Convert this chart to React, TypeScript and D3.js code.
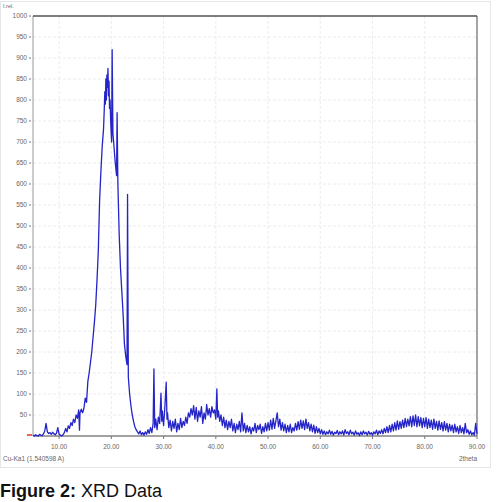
import React from "react";
import * as d3 from "d3";

const yTicks = [50, 100, 150, 200, 250, 300, 350, 400, 450, 500, 550, 600, 650, 700, 750, 800, 850, 900, 950, 1000];
const xTicks = [10, 20, 30, 40, 50, 60, 70, 80, 90];

// [2theta, intensity]
const scan: [number, number][] = [
  [5.0, 2], [5.25, 0], [5.5, 3], [5.75, 1], [6.0, 0], [6.25, 4], [6.5, 2], [6.75, 1], [7.0, 5],
  [7.25, 12], [7.5, 30], [7.75, 10], [8.0, 6], [8.25, 8], [8.5, 4], [8.75, 9], [9.0, 5], [9.25, 3],
  [9.5, 7], [9.75, 20], [10.0, 4], [10.25, 2], [10.5, 0], [10.75, 3], [11.0, 8], [11.25, 18],
  [11.5, 10], [11.75, 24], [12.0, 18], [12.25, 32], [12.5, 25], [12.75, 40], [13.0, 32], [13.25, 50],
  [13.5, 42], [13.75, 62], [13.9, 14], [14.0, 55], [14.25, 64], [14.5, 55], [14.75, 66], [15.0, 90],
  [15.25, 80], [15.5, 130], [15.75, 150], [16.0, 175], [16.25, 200], [16.5, 235], [16.75, 270],
  [17.0, 310], [17.25, 370], [17.5, 440], [17.75, 560], [18.0, 630], [18.25, 690], [18.5, 730],
  [18.65, 780], [18.75, 820], [18.85, 790], [18.95, 850], [19.05, 800], [19.15, 860], [19.25, 830],
  [19.35, 875], [19.45, 810], [19.55, 845], [19.65, 780], [19.75, 800], [19.9, 740], [20.05, 700],
  [20.15, 920], [20.3, 720], [20.5, 690], [20.75, 650], [21.0, 620], [21.1, 770], [21.25, 600],
  [21.5, 480], [21.75, 400], [22.0, 345], [22.25, 290], [22.5, 220], [22.75, 190], [23.0, 170],
  [23.1, 575], [23.25, 140], [23.5, 100], [23.75, 72], [24.0, 50], [24.25, 35], [24.5, 22],
  [24.75, 15], [25.0, 10], [25.25, 5], [25.5, 12], [25.75, 3], [26.0, 8], [26.25, 2], [26.5, 10],
  [26.75, 4], [27.0, 15], [27.25, 6], [27.5, 20], [27.75, 8], [28.0, 30], [28.15, 160], [28.3, 20],
  [28.5, 40], [28.75, 15], [29.0, 45], [29.25, 30], [29.5, 102], [29.65, 35], [29.75, 60], [30.0, 25],
  [30.25, 70], [30.5, 128], [30.65, 40], [30.75, 55], [31.0, 20], [31.25, 38], [31.5, 12], [31.75, 35],
  [32.0, 18], [32.25, 40], [32.5, 10], [32.75, 30], [33.0, 15], [33.25, 42], [33.5, 20], [33.75, 35],
  [34.0, 25], [34.25, 45], [34.5, 30], [34.75, 55], [35.0, 45], [35.25, 65], [35.5, 50], [35.75, 72],
  [36.0, 40], [36.25, 68], [36.5, 35], [36.75, 60], [37.0, 45], [37.25, 70], [37.5, 30], [37.75, 55],
  [38.0, 40], [38.25, 75], [38.5, 50], [38.75, 65], [39.0, 45], [39.25, 70], [39.5, 55], [39.75, 62],
  [40.0, 40], [40.2, 112], [40.35, 45], [40.5, 60], [40.75, 35], [41.0, 50], [41.25, 25], [41.5, 45],
  [41.75, 20], [42.0, 38], [42.25, 15], [42.5, 35], [42.75, 20], [43.0, 40], [43.25, 12], [43.5, 30],
  [43.75, 8], [44.0, 28], [44.25, 15], [44.5, 35], [44.75, 10], [45.0, 55], [45.25, 12], [45.5, 30],
  [45.75, 8], [46.0, 25], [46.25, 10], [46.5, 22], [46.75, 5], [47.0, 20], [47.25, 12], [47.5, 30],
  [47.75, 8], [48.0, 25], [48.25, 15], [48.5, 28], [48.75, 6], [49.0, 22], [49.25, 10], [49.5, 30],
  [49.75, 12], [50.0, 32], [50.25, 14], [50.5, 38], [50.75, 16], [51.0, 42], [51.25, 18], [51.5, 36],
  [51.75, 55], [52.0, 22], [52.25, 40], [52.5, 14], [52.75, 32], [53.0, 12], [53.25, 28], [53.5, 8],
  [53.75, 25], [54.0, 10], [54.25, 28], [54.5, 8], [54.75, 20], [55.0, 12], [55.25, 30], [55.5, 14],
  [55.75, 34], [56.0, 16], [56.25, 38], [56.5, 18], [56.75, 36], [57.0, 15], [57.25, 40], [57.5, 18],
  [57.75, 32], [58.0, 12], [58.25, 28], [58.5, 10], [58.75, 26], [59.0, 6], [59.25, 22], [59.5, 8],
  [59.75, 18], [60.0, 5], [60.25, 15], [60.5, 4], [60.75, 12], [61.0, 3], [61.25, 10], [61.5, 5],
  [61.75, 14], [62.0, 4], [62.25, 11], [62.5, 2], [62.75, 9], [63.0, 6], [63.25, 13], [63.5, 3],
  [63.75, 10], [64.0, 5], [64.25, 12], [64.5, 2], [64.75, 15], [65.0, 6], [65.25, 10], [65.5, 3],
  [65.75, 14], [66.0, 5], [66.25, 9], [66.5, 2], [66.75, 12], [67.0, 4], [67.25, 8], [67.5, 1],
  [67.75, 10], [68.0, 3], [68.25, 12], [68.5, 5], [68.75, 9], [69.0, 2], [69.25, 11], [69.5, 4],
  [69.75, 8], [70.0, 2], [70.25, 10], [70.5, 5], [70.75, 14], [71.0, 3], [71.25, 12], [71.5, 6],
  [71.75, 15], [72.0, 5], [72.25, 18], [72.5, 8], [72.75, 22], [73.0, 8], [73.25, 25], [73.5, 10],
  [73.75, 28], [74.0, 12], [74.25, 32], [74.5, 14], [74.75, 36], [75.0, 16], [75.25, 34], [75.5, 18],
  [75.75, 38], [76.0, 20], [76.25, 42], [76.5, 22], [76.75, 40], [77.0, 24], [77.25, 46], [77.5, 22],
  [77.75, 48], [78.0, 25], [78.25, 50], [78.5, 22], [78.75, 46], [79.0, 24], [79.25, 44], [79.5, 20],
  [79.75, 42], [80.0, 22], [80.25, 44], [80.5, 18], [80.75, 40], [81.0, 20], [81.25, 38], [81.5, 16],
  [81.75, 40], [82.0, 18], [82.25, 35], [82.5, 14], [82.75, 36], [83.0, 16], [83.25, 32], [83.5, 12],
  [83.75, 34], [84.0, 14], [84.25, 30], [84.5, 10], [84.75, 28], [85.0, 12], [85.25, 26], [85.5, 8],
  [85.75, 28], [86.0, 10], [86.25, 22], [86.5, 6], [86.75, 25], [87.0, 8], [87.25, 20], [87.5, 5],
  [87.75, 30], [88.0, 8], [88.25, 15], [88.5, 4], [88.75, 12], [89.0, 3], [89.25, 8], [89.5, 2],
  [89.75, 30], [90.0, 5],
];

const W = 497;
const H = 502;
const left = 33;
const right = 477;
const top = 16;
const bottom = 436;

export default function App() {
  const x = d3.scaleLinear().domain([5, 90]).range([left, right]);
  const y = d3.scaleLinear().domain([0, 1000]).range([bottom, top]);
  const line = d3
    .line<[number, number]>()
    .x((d) => x(d[0]))
    .y((d) => y(d[1]));

  const small = { fontFamily: "Liberation Sans, Arial, sans-serif", fontSize: 6.5, fill: "#666" };

  return (
    <svg
      width={W}
      height={H}
      style={{ position: "absolute", left: 0, top: 0, background: "#fff" }}
    >
      <rect x={0.5} y={1.5} width={490} height={466} fill="none" stroke="#e6e6e6" />
      {/* grid */}
      {yTicks.map((t) => (
        <line key={"gy" + t} x1={left} x2={right} y1={y(t)} y2={y(t)} stroke="#ececec" strokeDasharray="3,2" />
      ))}
      {xTicks.map((t) => (
        <line key={"gx" + t} x1={x(t)} x2={x(t)} y1={top} y2={bottom} stroke="#ececec" strokeDasharray="3,2" />
      ))}
      {/* frame */}
      <line x1={left} x2={left} y1={top} y2={bottom} stroke="#999" />
      <line x1={right} x2={right} y1={top} y2={bottom} stroke="#888" strokeWidth={1.5} />
      <line x1={left} x2={right} y1={top} y2={top} stroke="#555" strokeWidth={1.5} />
      <line x1={left} x2={right} y1={bottom} y2={bottom} stroke="#444" />
      {/* y ticks */}
      {yTicks.map((t) => (
        <g key={"yt" + t}>
          <line x1={left - 4} x2={left - 2} y1={y(t)} y2={y(t)} stroke="#777" />
          <text x={left - 6} y={y(t) + 2.3} textAnchor="end" {...small}>
            {t}
          </text>
        </g>
      ))}
      {/* x ticks */}
      {xTicks.map((t) => (
        <g key={"xt" + t}>
          <line x1={x(t)} x2={x(t)} y1={bottom} y2={bottom + 3} stroke="#777" />
          <text x={x(t)} y={bottom + 13} textAnchor="middle" {...small}>
            {t.toFixed(2)}
          </text>
        </g>
      ))}
      <line x1={27} x2={32} y1={y(0) - 1} y2={y(0) - 1} stroke="#e03020" strokeWidth={1.5} />
      <text x={3} y={8} {...small} fontSize={5.5}>
        I.rel.
      </text>
      <text x={3} y={461} {...small}>
        Cu-Ka1 (1.540598 A)
      </text>
      <text x={right} y={461} textAnchor="end" {...small}>
        2theta
      </text>
      {/* data */}
      <path d={line(scan) || ""} fill="none" stroke="#2424c8" strokeWidth={1.3} strokeLinejoin="round" />
      {/* caption */}
      <text x={0} y={497} fontFamily="Liberation Sans, Arial, sans-serif" fontSize={18} fill="#111">
        <tspan fontWeight="bold">Figure 2:</tspan>
        <tspan> XRD Data</tspan>
      </text>
    </svg>
  );
}
